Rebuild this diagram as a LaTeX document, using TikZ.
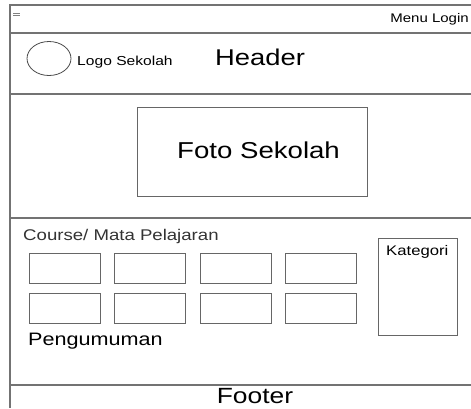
\documentclass[tikz,border=0pt]{standalone}
\usepackage{fontspec}
\setmainfont{Liberation Sans}
\usetikzlibrary{positioning}

\begin{document}
\begin{tikzpicture}[x=1pt,y=-1pt,
  frame/.style={draw=black!55,line width=1.3pt},
  box/.style={draw=black!60,line width=1.1pt,inner sep=0pt},
  txt/.style={inner sep=0pt,xscale=1.2}]

  % Define sizes
  \def\cw{71}
  \def\ch{30}

  \useasboundingbox (0,0) rectangle (471,408);

  % Page frame
  \draw[frame] (471,5) -- (10,5) -- (10,408);
  \draw[frame] (10,33)  -- (471,33);
  \draw[frame] (10,94)  -- (471,94);
  \draw[frame] (10,218) -- (471,218);
  \draw[frame] (10,385) -- (471,385);

  % Menu bar
  \draw[black!50,line width=1pt] (13,13.3) -- (20,13.3);
  \draw[black!50,line width=1pt] (13,15.9) -- (20,15.9);
  \node (login) at (469,22.5) [txt,anchor=base east,font=\fontsize{12.5}{12.5}\selectfont] {Menu Login};

  % Header
  \draw[draw=black!70,line width=0.8pt] (49,58.5) ellipse (22 and 17);
  \node (logo)   at (77,65.5)  [txt,anchor=base west,font=\fontsize{13}{13}\selectfont] {Logo Sekolah};
  \node (header) at (215,65.5) [txt,anchor=base west,font=\fontsize{22.8}{22.8}\selectfont] {Header};

  % Foto
  \node (foto) at (137,107) [box,anchor=north west,minimum width=230,minimum height=89] {};
  \node (fotolbl) at (177,158) [txt,anchor=base west,font=\fontsize{23}{23}\selectfont] {Foto Sekolah};

  % Course / Mata Pelajaran
  \node (course) at (23,240.7) [txt,anchor=base west,text=black!80,font=\fontsize{15.5}{15.5}\selectfont] {Course/ Mata Pelajaran};
  \foreach \i in {0,...,3} {
    \node (ca\i) at (29+85.3*\i,253) [box,anchor=north west,minimum width=\cw,minimum height=\ch] {};
    \node (cb\i) at (29+85.3*\i,293) [box,anchor=north west,minimum width=\cw,minimum height=\ch] {};
  }
  \node (umum) at (28,345.5) [txt,anchor=base west,font=\fontsize{18}{18}\selectfont] {Pengumuman};

  % Kategori
  \node (kat) at (378,238) [box,anchor=north west,minimum width=79,minimum height=97] {};
  \node (katlbl) at (386,255) [txt,anchor=base west,font=\fontsize{13.9}{13.9}\selectfont] {Kategori};

  % Footer
  \node (footer) at (255,403.5) [txt,anchor=base,font=\fontsize{22}{22}\selectfont] {Footer};

\end{tikzpicture}
\end{document}
